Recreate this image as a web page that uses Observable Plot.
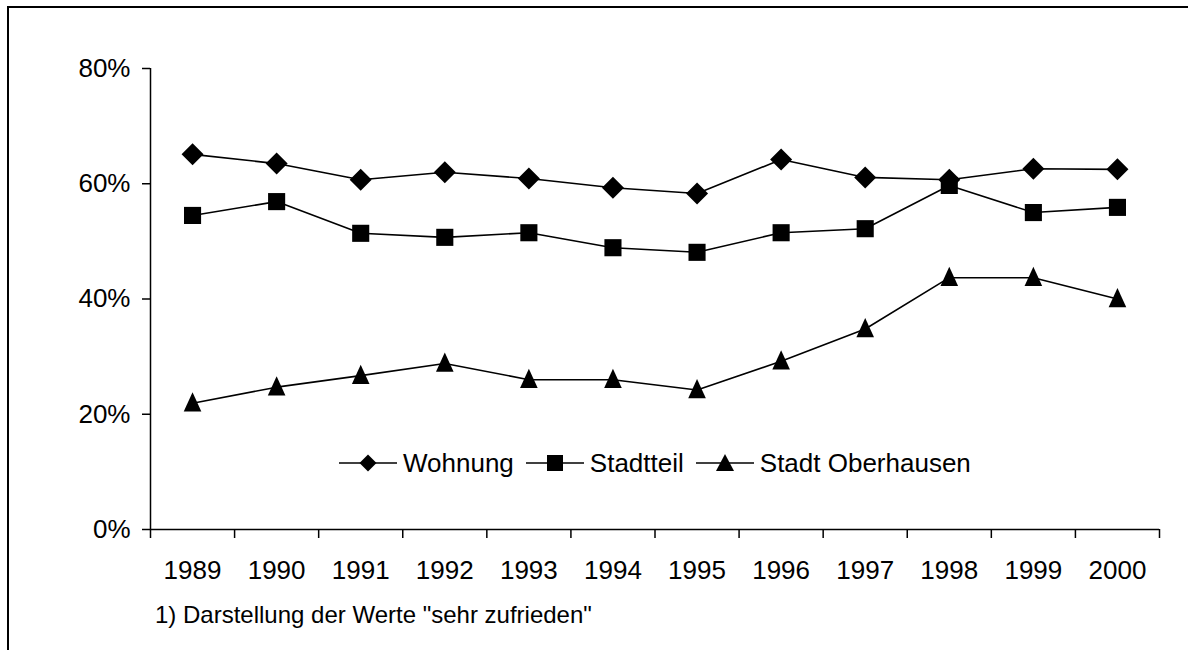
<!DOCTYPE html>
<html>
<head>
<meta charset="utf-8">
<script src="https://cdn.jsdelivr.net/npm/d3@7"></script>
<script src="https://cdn.jsdelivr.net/npm/@observablehq/plot@0.6"></script>
<style>
  html, body { margin: 0; padding: 0; background: #fff; }
  body { width: 1188px; height: 650px; overflow: hidden; position: relative; font-family: "Liberation Sans", Arial, sans-serif; color: #000; }
  #frame { position: absolute; left: 7px; top: 6px; width: 1300px; height: 800px; border-top: 2.5px solid #000; border-left: 2px solid #000; box-sizing: border-box; }
  #chart { position: absolute; left: 0; top: 0; }
  #legend { position: absolute; left: 339px; top: 446px; height: 34px; display: flex; align-items: center; font-size: 26px; white-space: nowrap; }
  #legend .item { display: flex; align-items: center; margin-right: 12px; }
  #legend svg { display: block; margin-right: 6px; }
  #footnote { position: absolute; left: 155px; top: 601px; font-size: 24px; white-space: nowrap; }
</style>
</head>
<body>
<div id="frame"></div>
<div id="chart"></div>
<div id="legend"></div>
<div id="footnote"></div>
<script>
// ---- data ----
const years = [1989, 1990, 1991, 1992, 1993, 1994, 1995, 1996, 1997, 1998, 1999, 2000];
const seriesNames = ["Wohnung", "Stadtteil", "Stadt Oberhausen"];
const wohnung    = [0.651, 0.635, 0.607, 0.620, 0.609, 0.593, 0.583, 0.642, 0.611, 0.607, 0.626, 0.625];
const stadtteil  = [0.545, 0.569, 0.514, 0.507, 0.515, 0.489, 0.481, 0.515, 0.522, 0.597, 0.550, 0.559];
const oberhausen = [0.219, 0.247, 0.267, 0.288, 0.260, 0.260, 0.242, 0.292, 0.348, 0.437, 0.437, 0.400];
const yTicks = [0, 0.2, 0.4, 0.6, 0.8];
const footnoteText = '1) Darstellung der Werte "sehr zufrieden"';

// ---- derived tables ----
const valuesBySeries = [wohnung, stadtteil, oberhausen];
const rows = seriesNames.flatMap((s, i) => years.map((yr, j) => ({series: s, year: yr, value: valuesBySeries[i][j]})));
const bounds = [...years.map(y => y - 0.5), years[years.length - 1] + 0.5];

// custom symbols
const diamondSym = { draw(ctx, size) { const r = Math.sqrt(size / Math.PI) * 1.1; ctx.moveTo(0, -r); ctx.lineTo(r, 0); ctx.lineTo(0, r); ctx.lineTo(-r, 0); ctx.closePath(); } };
const squareSym  = { draw(ctx, size) { const h = Math.sqrt(size / Math.PI) * 0.9; ctx.moveTo(-h, -h); ctx.lineTo(h, -h); ctx.lineTo(h, h); ctx.lineTo(-h, h); ctx.closePath(); } };
const triSym     = { draw(ctx, size) { const r = Math.sqrt(size / Math.PI); const w = r * 0.8, h = r; ctx.moveTo(0, -h); ctx.lineTo(w, h * 0.75); ctx.lineTo(-w, h * 0.75); ctx.closePath(); } };
const syms = [diamondSym, squareSym, triSym];
const symR = [10, 9.5, 11];

const plot = Plot.plot({
  width: 1188,
  height: 650,
  marginLeft: 150,
  marginRight: 29,
  marginTop: 68,
  marginBottom: 121,
  style: { fontFamily: '"Liberation Sans", Arial, sans-serif', color: "#000", background: "transparent", overflow: "visible" },
  x: { type: "linear", domain: [bounds[0], bounds[bounds.length - 1]] },
  y: { domain: [0, 0.8] },
  marks: [
    Plot.axisY({ ticks: yTicks, tickFormat: d3.format(".0%"), tickSize: 8, tickPadding: 12, fontSize: 26, strokeWidth: 1.5, label: null }),
    Plot.axisX({ ticks: bounds, tickFormat: () => "", tickSize: 9, strokeWidth: 1.5, label: null }),
    Plot.axisX({ ticks: years, tickFormat: d => String(d), tickSize: 0, tickPadding: 31, fontSize: 26, label: null }),
    Plot.ruleX([bounds[0]], { stroke: "#000", strokeWidth: 1.5 }),
    Plot.ruleY([0], { stroke: "#000", strokeWidth: 1.5 }),
    Plot.line(rows, { x: "year", y: "value", z: "series", stroke: "#000", strokeWidth: 1.6 }),
    ...seriesNames.map((s, i) => Plot.dot(rows.filter(d => d.series === s), { x: "year", y: "value", symbol: () => syms[i], r: symR[i], fill: "#000", stroke: "none" }))
  ]
});
document.getElementById("chart").appendChild(plot);

// ---- legend ----
const legendSym = [
  '<polygon points="29,0.5 37.5,9 29,17.5 20.5,9" fill="#000"/>',
  '<rect x="21" y="1" width="16" height="16" fill="#000"/>',
  '<polygon points="29,0 38,17 20,17" fill="#000"/>'
];
const legend = document.getElementById("legend");
seriesNames.forEach((s, i) => {
  const item = document.createElement("div");
  item.className = "item";
  item.innerHTML = `<svg width="58" height="18" viewBox="0 0 58 18"><line x1="0" y1="9" x2="58" y2="9" stroke="#000" stroke-width="1.6"/>${legendSym[i]}</svg><span>${s}</span>`;
  legend.appendChild(item);
});
document.getElementById("footnote").textContent = footnoteText;
</script>
</body>
</html>
